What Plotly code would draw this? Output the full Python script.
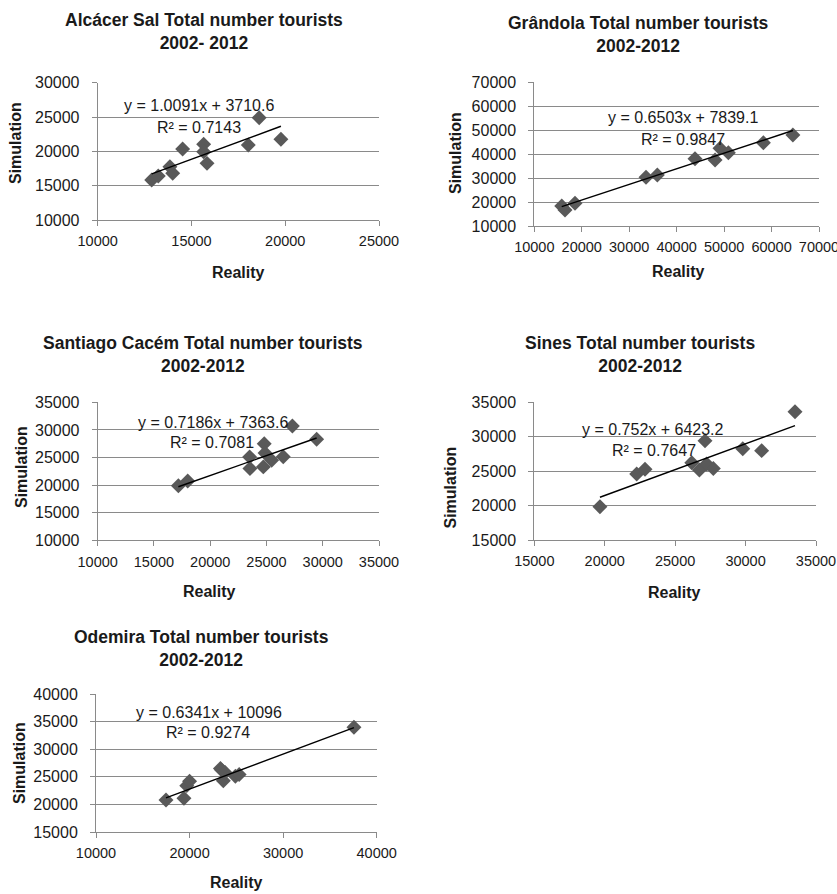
import numpy as np
import plotly.graph_objects as go

W, H = 837, 894

# ---------------- data ----------------
alcacer_reality = [12880, 13230, 13850, 14000, 14530, 15650, 15650, 15830, 18030, 18610, 19770]
alcacer_sim     = [15830, 16410, 17770, 16800, 20340, 21020, 19950, 18250, 20920, 24900, 21750]

grandola_reality = [15780, 16470, 18580, 33540, 35930, 43870, 48100, 49130, 50900, 58280, 64500]
grandola_sim     = [18330, 16670, 19460, 30280, 31250, 38060, 37500, 42370, 40540, 44710, 47900]

santiago_reality = [17170, 18000, 23500, 23530, 24800, 24870, 24720, 25460, 26490, 27300, 29460]
santiago_sim     = [19900, 20750, 25100, 23000, 27500, 25800, 23300, 24500, 25150, 30700, 28300]

sines_reality = [19660, 22270, 22860, 26180, 26720, 27120, 27240, 27710, 29800, 31140, 33510]
sines_sim     = [19840, 24590, 25270, 26220, 25160, 29400, 26040, 25400, 28250, 27980, 33640]

odemira_reality = [17480, 19400, 19700, 20000, 23300, 23430, 23610, 23800, 24900, 25300, 37570]
odemira_sim     = [20800, 21100, 23400, 24200, 26500, 26230, 24300, 25800, 25100, 25400, 33960]

titles = ["Alcácer Sal Total number tourists<br>2002- 2012",
          "Grândola Total number tourists<br>2002-2012",
          "Santiago Cacém Total number tourists<br>2002-2012",
          "Sines Total number tourists<br>2002-2012",
          "Odemira Total number tourists<br>2002-2012"]
equations = ["y = 1.0091x + 3710.6", "y = 0.6503x + 7839.1", "y = 0.7186x + 7363.6",
             "y = 0.752x + 6423.2", "y = 0.6341x + 10096"]
r2_labels = ["R² = 0.7143", "R² = 0.9847", "R² = 0.7081", "R² = 0.7647", "R² = 0.9274"]
slopes = [1.0091, 0.6503, 0.7186, 0.752, 0.6341]
intercepts = [3710.6, 7839.1, 7363.6, 6423.2, 10096]

x_ranges = [[10000, 25000], [10000, 70000], [10000, 35000], [15000, 35000], [10000, 40000]]
x_dticks = [5000, 10000, 5000, 5000, 10000]
y_ranges = [[10000, 30000], [10000, 70000], [10000, 35000], [15000, 35000], [15000, 40000]]
y_dticks = [5000, 10000, 5000, 5000, 5000]

series = [(alcacer_reality, alcacer_sim), (grandola_reality, grandola_sim),
          (santiago_reality, santiago_sim), (sines_reality, sines_sim),
          (odemira_reality, odemira_sim)]

# ---------------- layout geometry (pixels) ----------------
plot_boxes = [  # left, right, top, bottom
    (97.7, 379.0, 82.7, 220.0),
    (534.3, 819.0, 82.0, 226.0),
    (97.7, 379.0, 402.3, 540.3),
    (534.3, 816.0, 402.3, 540.0),
    (96.0, 376.7, 694.0, 832.0),
]
title_pos = [(204, 32), (638.5, 34.5), (203, 354), (640, 354.5), (201, 648.5)]
ytitle_pos = [(16, 143), (455, 153), (21, 467), (449.5, 488), (19, 763)]
xtitle_pos = [(238, 273), (678, 271.5), (210, 591), (674, 592), (236.7, 882)]
eq_pos = [(199, 105.7), (683, 117.5), (212.5, 422.5), (653, 429.5), (209, 712.5)]
r2_pos = [(199, 127), (683, 139.5), (212, 442.5), (653.5, 450), (208, 732.5)]

def px(x):
    return x / W

def py(y):
    return 1 - y / H

FONT = "Liberation Sans, Arial, sans-serif"
TXT = "#1a1a1a"
GRID = "#8a8a8a"

fig = go.Figure()
annotations = []
layout_axes = {}

for i in range(5):
    n = "" if i == 0 else str(i + 1)
    xr, yr = series[i]
    fig.add_trace(go.Scatter(
        x=xr, y=yr, mode="markers",
        marker=dict(symbol="diamond", size=11.5, color="#595959", line=dict(width=0)),
        xaxis="x" + n, yaxis="y" + n, showlegend=False, hoverinfo="x+y"))
    xl = np.array([min(xr), max(xr)], dtype=float)
    yl = slopes[i] * xl + intercepts[i]
    fig.add_trace(go.Scatter(
        x=xl, y=yl, mode="lines", line=dict(color="#000000", width=1.4),
        xaxis="x" + n, yaxis="y" + n, showlegend=False, hoverinfo="skip"))

    l, r, t, b = plot_boxes[i]
    layout_axes["xaxis" + n] = dict(
        domain=[px(l), px(r)], range=x_ranges[i], dtick=x_dticks[i], tick0=x_ranges[i][0],
        anchor="y" + n, showgrid=False, zeroline=False, showline=True, linecolor=GRID,
        linewidth=1, ticks="outside", ticklen=5, tickcolor=GRID, tickwidth=1,
        tickformat="d", tickfont=dict(family=FONT, size=14.5, color=TXT),
        ticklabelstandoff=3, ticklabeloverflow="allow",
        fixedrange=True, automargin=False)
    layout_axes["yaxis" + n] = dict(
        domain=[py(b), py(t)], range=y_ranges[i], dtick=y_dticks[i], tick0=y_ranges[i][0],
        anchor="x" + n, showgrid=True, gridcolor=GRID, gridwidth=1, zeroline=False,
        showline=True, linecolor=GRID, linewidth=1, ticks="outside", ticklen=5,
        tickcolor=GRID, tickwidth=1, tickformat="d",
        tickfont=dict(family=FONT, size=16, color=TXT), ticklabelstandoff=9,
        ticklabeloverflow="allow", fixedrange=True, automargin=False)

    annotations.append(dict(text="<b>" + titles[i].replace("<br>", "</b><br><b>") + "</b>",
                            x=px(title_pos[i][0]), y=py(title_pos[i][1]),
                            xref="paper", yref="paper", showarrow=False,
                            xanchor="center", yanchor="middle",
                            font=dict(family=FONT, size=17.5, color=TXT)))
    annotations.append(dict(text="<b>Simulation</b>", textangle=-90,
                            x=px(ytitle_pos[i][0]), y=py(ytitle_pos[i][1]),
                            xref="paper", yref="paper", showarrow=False,
                            xanchor="center", yanchor="middle",
                            font=dict(family=FONT, size=16, color=TXT)))
    annotations.append(dict(text="<b>Reality</b>",
                            x=px(xtitle_pos[i][0]), y=py(xtitle_pos[i][1]),
                            xref="paper", yref="paper", showarrow=False,
                            xanchor="center", yanchor="middle",
                            font=dict(family=FONT, size=16, color=TXT)))
    annotations.append(dict(text=equations[i],
                            x=px(eq_pos[i][0]), y=py(eq_pos[i][1]),
                            xref="paper", yref="paper", showarrow=False,
                            xanchor="center", yanchor="middle",
                            font=dict(family=FONT, size=16, color=TXT)))
    annotations.append(dict(text=r2_labels[i],
                            x=px(r2_pos[i][0]), y=py(r2_pos[i][1]),
                            xref="paper", yref="paper", showarrow=False,
                            xanchor="center", yanchor="middle",
                            font=dict(family=FONT, size=16, color=TXT)))

fig.update_layout(
    template="none",
    width=W, height=H, margin=dict(l=0, r=0, t=0, b=0, autoexpand=False),
    paper_bgcolor="white", plot_bgcolor="white",
    font=dict(family=FONT, color=TXT),
    annotations=annotations, showlegend=False,
    **layout_axes)

fig.write_html("out.html", config={"displayModeBar": False},
               post_script="document.body.style.margin='0';document.body.style.overflow='hidden';")
